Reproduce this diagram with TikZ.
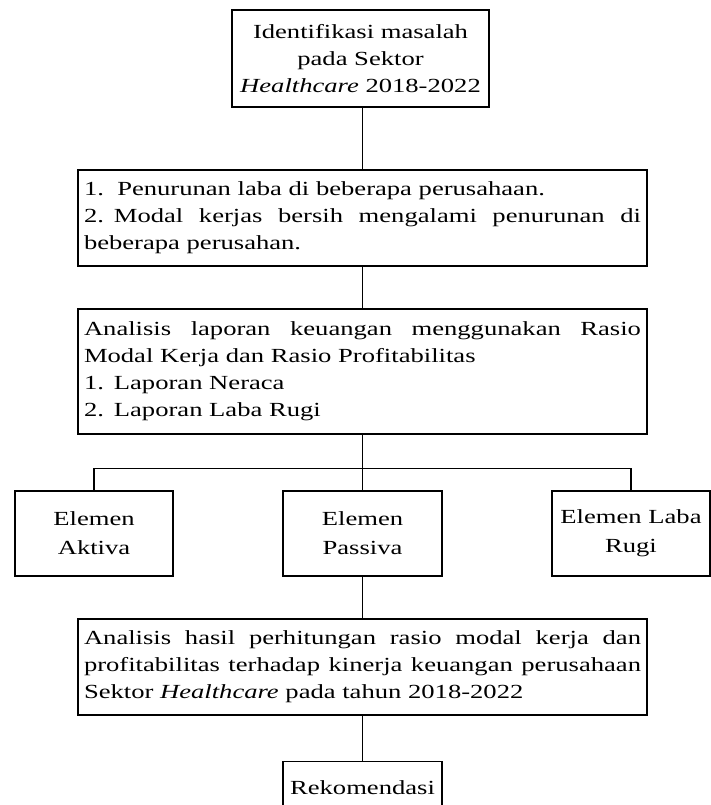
\documentclass[tikz,border=0pt]{standalone}
\usepackage{fontspec}
\setmainfont[FakeStretch=1.33]{Liberation Serif}
\newcommand{\jl}[1]{\makebox[\hsize][s]{\spaceskip=0.25em plus 1fil\relax #1}}
\begin{document}
\begin{tikzpicture}[x=1pt,y=-1pt,
  base/.style={draw, line width=1.2pt, inner ysep=0pt, font=\fontsize{20}{27}\selectfont},
  wide/.style={base, minimum width=569, text width=557, inner xsep=6, align=left},
  small/.style={base, font=\fontsize{20}{29}\selectfont, minimum width=158, text width=152, inner xsep=3, align=center, minimum height=85},
  conn/.style={line width=1.2pt}]
\useasboundingbox (0,0) rectangle (710,805);
\node[base, minimum width=257, text width=251, inner xsep=3, align=center, minimum height=97] (top) at (360.5,58.5)
  {Identifikasi masalah\\pada Sektor\\\textit{Healthcare} 2018-2022};
\node[wide, minimum height=96] (b2) at (362.5,218)
  {1.\ \ Penurunan laba di beberapa perusahaan.\\
   \jl{2. Modal kerjas bersih mengalami penurunan di}\\
   beberapa perusahan.};
\node[wide, minimum height=125] (b3) at (362.5,371.5)
  {\jl{Analisis laporan keuangan menggunakan Rasio}\\
   Modal Kerja dan Rasio Profitabilitas\\
   1. Laporan Neraca\\
   2. Laporan Laba Rugi};
\node[small] (left) at (94,533.5) {Elemen\\Aktiva};
\node[small, minimum width=159] (mid) at (362.5,533.5) {Elemen\\Passiva};
\node[small, minimum width=156] (right) at (631,533.5) {Elemen Laba\\Rugi};
\node[wide, minimum height=96] (b5) at (362.5,667)
  {\jl{Analisis hasil perhitungan rasio modal kerja dan}\\
   \jl{profitabilitas terhadap kinerja keuangan perusahaan}\\
   Sektor \textit{Healthcare} pada tahun 2018-2022};
\node[base, minimum width=159, inner xsep=3, text height=33, text depth=16, anchor=north] (rek) at (362.5,761) {Rekomendasi};
\draw[conn] (b2.north) -- (b2.north |- top.south);
\draw[conn] (b2.south) -- (b3.north);
\draw[conn] (b3.south) -- (mid.north);
\draw[conn] (left.north) -- ++(0,-22) -| (right.north);
\draw[conn] (mid.south) -- (b5.north);
\draw[conn] (b5.south) -- (rek.north);
\end{tikzpicture}
\end{document}
